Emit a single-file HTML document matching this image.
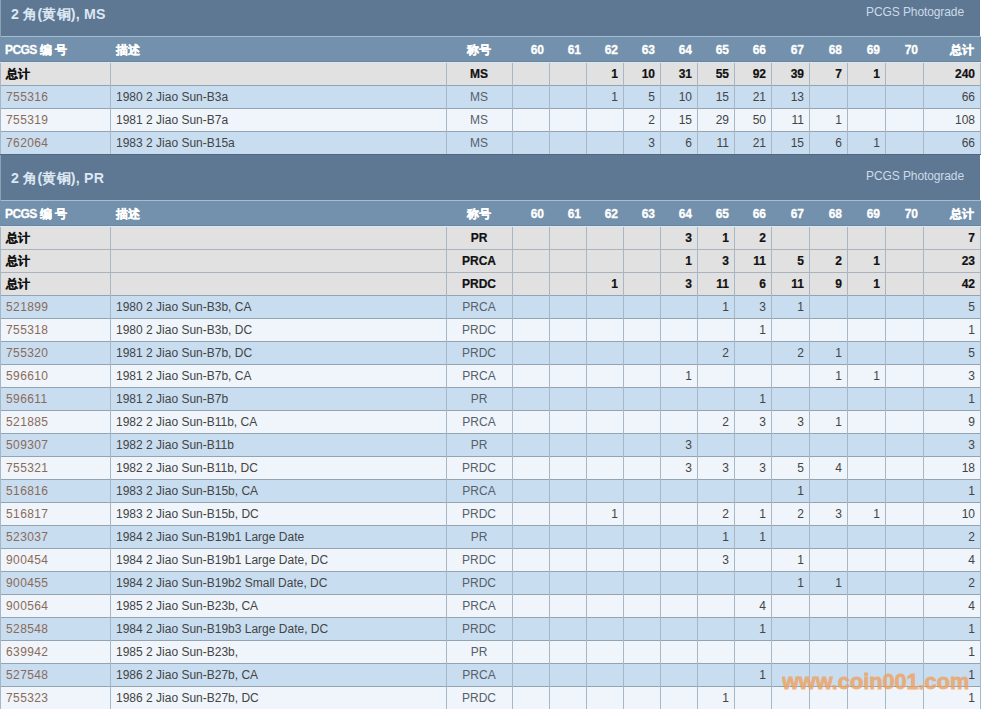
<!DOCTYPE html>
<html><head><meta charset="utf-8"><style>
html,body{margin:0;padding:0;background:#fff;}
body{width:982px;height:709px;overflow:hidden;position:relative;font-family:"Liberation Sans",sans-serif;font-size:12px;}
body>div{position:absolute;white-space:nowrap;overflow:hidden;}
.tt{color:#dbe7f2;font-weight:bold;font-size:14.2px;letter-spacing:0.2px;}
.pg{color:#cbdbea;font-size:12px;letter-spacing:-0.1px;}
.hd{color:#ffffff;font-weight:bold;font-size:12px;-webkit-text-stroke:0.3px #fff;}
.tb{color:#111111;font-weight:bold;-webkit-text-stroke:0.2px #111111;}
.lk{color:#8c6a59;letter-spacing:0.4px;}
.ds{color:#444444;}
.cd{color:#57606a;}
.nm{color:#444444;}
.wm{color:rgb(240,160,90);opacity:0.78;font-weight:bold;font-size:21.7px;-webkit-text-stroke:0.8px rgb(240,160,90);}
</style></head><body>
<div style="left:0px;top:-9px;width:980px;height:45px;background:#5e7792;"></div><div class="tt" style="left:0px;top:-8px;width:980px;height:45px;line-height:45px;text-align:left;padding-left:11px;box-sizing:border-box;">2 角(黄铜), MS</div><div class="pg" style="left:0px;top:0px;width:980px;height:25px;line-height:25px;text-align:right;padding-right:16px;box-sizing:border-box;">PCGS Photograde</div><div style="left:0px;top:36px;width:981px;height:1px;background:#a3bdd5;"></div><div style="left:0px;top:-9px;width:1px;height:71px;background:#8aa3bb;"></div><div style="left:0px;top:37px;width:981px;height:24px;background:#7391ac;"></div><div style="left:0px;top:61px;width:981px;height:1px;background:#6786a2;"></div><div style="left:0px;top:62px;width:981px;height:1px;background:#dfe7ee;"></div><div class="hd" style="left:0px;top:39px;width:110px;height:23px;line-height:23px;text-align:left;padding-left:5px;box-sizing:border-box;"><span style="letter-spacing:-0.6px">PCGS</span> 编 号</div><div class="hd" style="left:110px;top:39px;width:336px;height:23px;line-height:23px;text-align:left;padding-left:6px;box-sizing:border-box;">描述</div><div class="hd" style="left:446px;top:39px;width:66px;height:23px;line-height:23px;text-align:center;">称号</div><div class="hd" style="left:512px;top:39px;width:37px;height:23px;line-height:23px;text-align:right;padding-right:5px;box-sizing:border-box;">60</div><div class="hd" style="left:549px;top:39px;width:37px;height:23px;line-height:23px;text-align:right;padding-right:5px;box-sizing:border-box;">61</div><div class="hd" style="left:586px;top:39px;width:37px;height:23px;line-height:23px;text-align:right;padding-right:5px;box-sizing:border-box;">62</div><div class="hd" style="left:623px;top:39px;width:37px;height:23px;line-height:23px;text-align:right;padding-right:5px;box-sizing:border-box;">63</div><div class="hd" style="left:660px;top:39px;width:37px;height:23px;line-height:23px;text-align:right;padding-right:5px;box-sizing:border-box;">64</div><div class="hd" style="left:697px;top:39px;width:37px;height:23px;line-height:23px;text-align:right;padding-right:5px;box-sizing:border-box;">65</div><div class="hd" style="left:734px;top:39px;width:37px;height:23px;line-height:23px;text-align:right;padding-right:5px;box-sizing:border-box;">66</div><div class="hd" style="left:771px;top:39px;width:38px;height:23px;line-height:23px;text-align:right;padding-right:5px;box-sizing:border-box;">67</div><div class="hd" style="left:809px;top:39px;width:38px;height:23px;line-height:23px;text-align:right;padding-right:5px;box-sizing:border-box;">68</div><div class="hd" style="left:847px;top:39px;width:38px;height:23px;line-height:23px;text-align:right;padding-right:5px;box-sizing:border-box;">69</div><div class="hd" style="left:885px;top:39px;width:38px;height:23px;line-height:23px;text-align:right;padding-right:5px;box-sizing:border-box;">70</div><div class="hd" style="left:923px;top:39px;width:57px;height:23px;line-height:23px;text-align:right;padding-right:6px;box-sizing:border-box;">总计</div><div style="left:0px;top:63px;width:981px;height:22px;background:#e1e1e1;"></div><div class="tb" style="left:0px;top:63px;width:110px;height:22px;line-height:22px;text-align:left;padding-left:6px;box-sizing:border-box;">总计</div><div class="tb" style="left:110px;top:63px;width:336px;height:22px;line-height:22px;text-align:left;padding-left:6px;box-sizing:border-box;"></div><div class="tb" style="left:446px;top:63px;width:66px;height:22px;line-height:22px;text-align:center;">MS</div><div class="tb" style="left:586px;top:63px;width:37px;height:22px;line-height:22px;text-align:right;padding-right:5px;box-sizing:border-box;">1</div><div class="tb" style="left:623px;top:63px;width:37px;height:22px;line-height:22px;text-align:right;padding-right:5px;box-sizing:border-box;">10</div><div class="tb" style="left:660px;top:63px;width:37px;height:22px;line-height:22px;text-align:right;padding-right:5px;box-sizing:border-box;">31</div><div class="tb" style="left:697px;top:63px;width:37px;height:22px;line-height:22px;text-align:right;padding-right:5px;box-sizing:border-box;">55</div><div class="tb" style="left:734px;top:63px;width:37px;height:22px;line-height:22px;text-align:right;padding-right:5px;box-sizing:border-box;">92</div><div class="tb" style="left:771px;top:63px;width:38px;height:22px;line-height:22px;text-align:right;padding-right:5px;box-sizing:border-box;">39</div><div class="tb" style="left:809px;top:63px;width:38px;height:22px;line-height:22px;text-align:right;padding-right:5px;box-sizing:border-box;">7</div><div class="tb" style="left:847px;top:63px;width:38px;height:22px;line-height:22px;text-align:right;padding-right:5px;box-sizing:border-box;">1</div><div class="tb" style="left:923px;top:63px;width:57px;height:22px;line-height:22px;text-align:right;padding-right:5px;box-sizing:border-box;">240</div><div style="left:0px;top:85px;width:981px;height:1px;background:#94a3b0;"></div><div style="left:0px;top:86px;width:981px;height:22px;background:#c8ddf0;"></div><div class="lk" style="left:0px;top:86px;width:110px;height:22px;line-height:22px;text-align:left;padding-left:6px;box-sizing:border-box;">755316</div><div class="ds" style="left:110px;top:86px;width:336px;height:22px;line-height:22px;text-align:left;padding-left:6px;box-sizing:border-box;">1980 2 Jiao Sun-B3a</div><div class="cd" style="left:446px;top:86px;width:66px;height:22px;line-height:22px;text-align:center;">MS</div><div class="nm" style="left:586px;top:86px;width:37px;height:22px;line-height:22px;text-align:right;padding-right:5px;box-sizing:border-box;">1</div><div class="nm" style="left:623px;top:86px;width:37px;height:22px;line-height:22px;text-align:right;padding-right:5px;box-sizing:border-box;">5</div><div class="nm" style="left:660px;top:86px;width:37px;height:22px;line-height:22px;text-align:right;padding-right:5px;box-sizing:border-box;">10</div><div class="nm" style="left:697px;top:86px;width:37px;height:22px;line-height:22px;text-align:right;padding-right:5px;box-sizing:border-box;">15</div><div class="nm" style="left:734px;top:86px;width:37px;height:22px;line-height:22px;text-align:right;padding-right:5px;box-sizing:border-box;">21</div><div class="nm" style="left:771px;top:86px;width:38px;height:22px;line-height:22px;text-align:right;padding-right:5px;box-sizing:border-box;">13</div><div class="nm" style="left:923px;top:86px;width:57px;height:22px;line-height:22px;text-align:right;padding-right:5px;box-sizing:border-box;">66</div><div style="left:0px;top:108px;width:981px;height:1px;background:#94a3b0;"></div><div style="left:0px;top:109px;width:981px;height:22px;background:#eff5fa;"></div><div class="lk" style="left:0px;top:109px;width:110px;height:22px;line-height:22px;text-align:left;padding-left:6px;box-sizing:border-box;">755319</div><div class="ds" style="left:110px;top:109px;width:336px;height:22px;line-height:22px;text-align:left;padding-left:6px;box-sizing:border-box;">1981 2 Jiao Sun-B7a</div><div class="cd" style="left:446px;top:109px;width:66px;height:22px;line-height:22px;text-align:center;">MS</div><div class="nm" style="left:623px;top:109px;width:37px;height:22px;line-height:22px;text-align:right;padding-right:5px;box-sizing:border-box;">2</div><div class="nm" style="left:660px;top:109px;width:37px;height:22px;line-height:22px;text-align:right;padding-right:5px;box-sizing:border-box;">15</div><div class="nm" style="left:697px;top:109px;width:37px;height:22px;line-height:22px;text-align:right;padding-right:5px;box-sizing:border-box;">29</div><div class="nm" style="left:734px;top:109px;width:37px;height:22px;line-height:22px;text-align:right;padding-right:5px;box-sizing:border-box;">50</div><div class="nm" style="left:771px;top:109px;width:38px;height:22px;line-height:22px;text-align:right;padding-right:5px;box-sizing:border-box;">11</div><div class="nm" style="left:809px;top:109px;width:38px;height:22px;line-height:22px;text-align:right;padding-right:5px;box-sizing:border-box;">1</div><div class="nm" style="left:923px;top:109px;width:57px;height:22px;line-height:22px;text-align:right;padding-right:5px;box-sizing:border-box;">108</div><div style="left:0px;top:131px;width:981px;height:1px;background:#94a3b0;"></div><div style="left:0px;top:132px;width:981px;height:22px;background:#c8ddf0;"></div><div class="lk" style="left:0px;top:132px;width:110px;height:22px;line-height:22px;text-align:left;padding-left:6px;box-sizing:border-box;">762064</div><div class="ds" style="left:110px;top:132px;width:336px;height:22px;line-height:22px;text-align:left;padding-left:6px;box-sizing:border-box;">1983 2 Jiao Sun-B15a</div><div class="cd" style="left:446px;top:132px;width:66px;height:22px;line-height:22px;text-align:center;">MS</div><div class="nm" style="left:623px;top:132px;width:37px;height:22px;line-height:22px;text-align:right;padding-right:5px;box-sizing:border-box;">3</div><div class="nm" style="left:660px;top:132px;width:37px;height:22px;line-height:22px;text-align:right;padding-right:5px;box-sizing:border-box;">6</div><div class="nm" style="left:697px;top:132px;width:37px;height:22px;line-height:22px;text-align:right;padding-right:5px;box-sizing:border-box;">11</div><div class="nm" style="left:734px;top:132px;width:37px;height:22px;line-height:22px;text-align:right;padding-right:5px;box-sizing:border-box;">21</div><div class="nm" style="left:771px;top:132px;width:38px;height:22px;line-height:22px;text-align:right;padding-right:5px;box-sizing:border-box;">15</div><div class="nm" style="left:809px;top:132px;width:38px;height:22px;line-height:22px;text-align:right;padding-right:5px;box-sizing:border-box;">6</div><div class="nm" style="left:847px;top:132px;width:38px;height:22px;line-height:22px;text-align:right;padding-right:5px;box-sizing:border-box;">1</div><div class="nm" style="left:923px;top:132px;width:57px;height:22px;line-height:22px;text-align:right;padding-right:5px;box-sizing:border-box;">66</div><div style="left:0px;top:154px;width:981px;height:1px;background:#51687f;"></div><div style="left:0px;top:63px;width:1px;height:91px;background:#a7b7c6;"></div><div style="left:110px;top:63px;width:1px;height:91px;background:#a7b7c6;"></div><div style="left:446px;top:63px;width:1px;height:91px;background:#a7b7c6;"></div><div style="left:512px;top:63px;width:1px;height:91px;background:#a7b7c6;"></div><div style="left:549px;top:63px;width:1px;height:91px;background:#a7b7c6;"></div><div style="left:586px;top:63px;width:1px;height:91px;background:#a7b7c6;"></div><div style="left:623px;top:63px;width:1px;height:91px;background:#a7b7c6;"></div><div style="left:660px;top:63px;width:1px;height:91px;background:#a7b7c6;"></div><div style="left:697px;top:63px;width:1px;height:91px;background:#a7b7c6;"></div><div style="left:734px;top:63px;width:1px;height:91px;background:#a7b7c6;"></div><div style="left:771px;top:63px;width:1px;height:91px;background:#a7b7c6;"></div><div style="left:809px;top:63px;width:1px;height:91px;background:#a7b7c6;"></div><div style="left:847px;top:63px;width:1px;height:91px;background:#a7b7c6;"></div><div style="left:885px;top:63px;width:1px;height:91px;background:#a7b7c6;"></div><div style="left:923px;top:63px;width:1px;height:91px;background:#a7b7c6;"></div><div style="left:980px;top:63px;width:1px;height:91px;background:#a7b7c6;"></div><div style="left:0px;top:155px;width:980px;height:45px;background:#5e7792;"></div><div class="tt" style="left:0px;top:156px;width:980px;height:45px;line-height:45px;text-align:left;padding-left:11px;box-sizing:border-box;">2 角(黄铜), PR</div><div class="pg" style="left:0px;top:164px;width:980px;height:25px;line-height:25px;text-align:right;padding-right:16px;box-sizing:border-box;">PCGS Photograde</div><div style="left:0px;top:200px;width:981px;height:1px;background:#a3bdd5;"></div><div style="left:0px;top:155px;width:1px;height:71px;background:#8aa3bb;"></div><div style="left:0px;top:201px;width:981px;height:24px;background:#7391ac;"></div><div style="left:0px;top:225px;width:981px;height:1px;background:#6786a2;"></div><div style="left:0px;top:226px;width:981px;height:1px;background:#dfe7ee;"></div><div class="hd" style="left:0px;top:203px;width:110px;height:23px;line-height:23px;text-align:left;padding-left:5px;box-sizing:border-box;"><span style="letter-spacing:-0.6px">PCGS</span> 编 号</div><div class="hd" style="left:110px;top:203px;width:336px;height:23px;line-height:23px;text-align:left;padding-left:6px;box-sizing:border-box;">描述</div><div class="hd" style="left:446px;top:203px;width:66px;height:23px;line-height:23px;text-align:center;">称号</div><div class="hd" style="left:512px;top:203px;width:37px;height:23px;line-height:23px;text-align:right;padding-right:5px;box-sizing:border-box;">60</div><div class="hd" style="left:549px;top:203px;width:37px;height:23px;line-height:23px;text-align:right;padding-right:5px;box-sizing:border-box;">61</div><div class="hd" style="left:586px;top:203px;width:37px;height:23px;line-height:23px;text-align:right;padding-right:5px;box-sizing:border-box;">62</div><div class="hd" style="left:623px;top:203px;width:37px;height:23px;line-height:23px;text-align:right;padding-right:5px;box-sizing:border-box;">63</div><div class="hd" style="left:660px;top:203px;width:37px;height:23px;line-height:23px;text-align:right;padding-right:5px;box-sizing:border-box;">64</div><div class="hd" style="left:697px;top:203px;width:37px;height:23px;line-height:23px;text-align:right;padding-right:5px;box-sizing:border-box;">65</div><div class="hd" style="left:734px;top:203px;width:37px;height:23px;line-height:23px;text-align:right;padding-right:5px;box-sizing:border-box;">66</div><div class="hd" style="left:771px;top:203px;width:38px;height:23px;line-height:23px;text-align:right;padding-right:5px;box-sizing:border-box;">67</div><div class="hd" style="left:809px;top:203px;width:38px;height:23px;line-height:23px;text-align:right;padding-right:5px;box-sizing:border-box;">68</div><div class="hd" style="left:847px;top:203px;width:38px;height:23px;line-height:23px;text-align:right;padding-right:5px;box-sizing:border-box;">69</div><div class="hd" style="left:885px;top:203px;width:38px;height:23px;line-height:23px;text-align:right;padding-right:5px;box-sizing:border-box;">70</div><div class="hd" style="left:923px;top:203px;width:57px;height:23px;line-height:23px;text-align:right;padding-right:6px;box-sizing:border-box;">总计</div><div style="left:0px;top:227px;width:981px;height:22px;background:#e1e1e1;"></div><div class="tb" style="left:0px;top:227px;width:110px;height:22px;line-height:22px;text-align:left;padding-left:6px;box-sizing:border-box;">总计</div><div class="tb" style="left:110px;top:227px;width:336px;height:22px;line-height:22px;text-align:left;padding-left:6px;box-sizing:border-box;"></div><div class="tb" style="left:446px;top:227px;width:66px;height:22px;line-height:22px;text-align:center;">PR</div><div class="tb" style="left:660px;top:227px;width:37px;height:22px;line-height:22px;text-align:right;padding-right:5px;box-sizing:border-box;">3</div><div class="tb" style="left:697px;top:227px;width:37px;height:22px;line-height:22px;text-align:right;padding-right:5px;box-sizing:border-box;">1</div><div class="tb" style="left:734px;top:227px;width:37px;height:22px;line-height:22px;text-align:right;padding-right:5px;box-sizing:border-box;">2</div><div class="tb" style="left:923px;top:227px;width:57px;height:22px;line-height:22px;text-align:right;padding-right:5px;box-sizing:border-box;">7</div><div style="left:0px;top:249px;width:981px;height:1px;background:#aab3bd;"></div><div style="left:0px;top:250px;width:981px;height:22px;background:#e1e1e1;"></div><div class="tb" style="left:0px;top:250px;width:110px;height:22px;line-height:22px;text-align:left;padding-left:6px;box-sizing:border-box;">总计</div><div class="tb" style="left:110px;top:250px;width:336px;height:22px;line-height:22px;text-align:left;padding-left:6px;box-sizing:border-box;"></div><div class="tb" style="left:446px;top:250px;width:66px;height:22px;line-height:22px;text-align:center;">PRCA</div><div class="tb" style="left:660px;top:250px;width:37px;height:22px;line-height:22px;text-align:right;padding-right:5px;box-sizing:border-box;">1</div><div class="tb" style="left:697px;top:250px;width:37px;height:22px;line-height:22px;text-align:right;padding-right:5px;box-sizing:border-box;">3</div><div class="tb" style="left:734px;top:250px;width:37px;height:22px;line-height:22px;text-align:right;padding-right:5px;box-sizing:border-box;">11</div><div class="tb" style="left:771px;top:250px;width:38px;height:22px;line-height:22px;text-align:right;padding-right:5px;box-sizing:border-box;">5</div><div class="tb" style="left:809px;top:250px;width:38px;height:22px;line-height:22px;text-align:right;padding-right:5px;box-sizing:border-box;">2</div><div class="tb" style="left:847px;top:250px;width:38px;height:22px;line-height:22px;text-align:right;padding-right:5px;box-sizing:border-box;">1</div><div class="tb" style="left:923px;top:250px;width:57px;height:22px;line-height:22px;text-align:right;padding-right:5px;box-sizing:border-box;">23</div><div style="left:0px;top:272px;width:981px;height:1px;background:#aab3bd;"></div><div style="left:0px;top:273px;width:981px;height:22px;background:#e1e1e1;"></div><div class="tb" style="left:0px;top:273px;width:110px;height:22px;line-height:22px;text-align:left;padding-left:6px;box-sizing:border-box;">总计</div><div class="tb" style="left:110px;top:273px;width:336px;height:22px;line-height:22px;text-align:left;padding-left:6px;box-sizing:border-box;"></div><div class="tb" style="left:446px;top:273px;width:66px;height:22px;line-height:22px;text-align:center;">PRDC</div><div class="tb" style="left:586px;top:273px;width:37px;height:22px;line-height:22px;text-align:right;padding-right:5px;box-sizing:border-box;">1</div><div class="tb" style="left:660px;top:273px;width:37px;height:22px;line-height:22px;text-align:right;padding-right:5px;box-sizing:border-box;">3</div><div class="tb" style="left:697px;top:273px;width:37px;height:22px;line-height:22px;text-align:right;padding-right:5px;box-sizing:border-box;">11</div><div class="tb" style="left:734px;top:273px;width:37px;height:22px;line-height:22px;text-align:right;padding-right:5px;box-sizing:border-box;">6</div><div class="tb" style="left:771px;top:273px;width:38px;height:22px;line-height:22px;text-align:right;padding-right:5px;box-sizing:border-box;">11</div><div class="tb" style="left:809px;top:273px;width:38px;height:22px;line-height:22px;text-align:right;padding-right:5px;box-sizing:border-box;">9</div><div class="tb" style="left:847px;top:273px;width:38px;height:22px;line-height:22px;text-align:right;padding-right:5px;box-sizing:border-box;">1</div><div class="tb" style="left:923px;top:273px;width:57px;height:22px;line-height:22px;text-align:right;padding-right:5px;box-sizing:border-box;">42</div><div style="left:0px;top:295px;width:981px;height:1px;background:#94a3b0;"></div><div style="left:0px;top:296px;width:981px;height:22px;background:#c8ddf0;"></div><div class="lk" style="left:0px;top:296px;width:110px;height:22px;line-height:22px;text-align:left;padding-left:6px;box-sizing:border-box;">521899</div><div class="ds" style="left:110px;top:296px;width:336px;height:22px;line-height:22px;text-align:left;padding-left:6px;box-sizing:border-box;">1980 2 Jiao Sun-B3b, CA</div><div class="cd" style="left:446px;top:296px;width:66px;height:22px;line-height:22px;text-align:center;">PRCA</div><div class="nm" style="left:697px;top:296px;width:37px;height:22px;line-height:22px;text-align:right;padding-right:5px;box-sizing:border-box;">1</div><div class="nm" style="left:734px;top:296px;width:37px;height:22px;line-height:22px;text-align:right;padding-right:5px;box-sizing:border-box;">3</div><div class="nm" style="left:771px;top:296px;width:38px;height:22px;line-height:22px;text-align:right;padding-right:5px;box-sizing:border-box;">1</div><div class="nm" style="left:923px;top:296px;width:57px;height:22px;line-height:22px;text-align:right;padding-right:5px;box-sizing:border-box;">5</div><div style="left:0px;top:318px;width:981px;height:1px;background:#94a3b0;"></div><div style="left:0px;top:319px;width:981px;height:22px;background:#eff5fa;"></div><div class="lk" style="left:0px;top:319px;width:110px;height:22px;line-height:22px;text-align:left;padding-left:6px;box-sizing:border-box;">755318</div><div class="ds" style="left:110px;top:319px;width:336px;height:22px;line-height:22px;text-align:left;padding-left:6px;box-sizing:border-box;">1980 2 Jiao Sun-B3b, DC</div><div class="cd" style="left:446px;top:319px;width:66px;height:22px;line-height:22px;text-align:center;">PRDC</div><div class="nm" style="left:734px;top:319px;width:37px;height:22px;line-height:22px;text-align:right;padding-right:5px;box-sizing:border-box;">1</div><div class="nm" style="left:923px;top:319px;width:57px;height:22px;line-height:22px;text-align:right;padding-right:5px;box-sizing:border-box;">1</div><div style="left:0px;top:341px;width:981px;height:1px;background:#94a3b0;"></div><div style="left:0px;top:342px;width:981px;height:22px;background:#c8ddf0;"></div><div class="lk" style="left:0px;top:342px;width:110px;height:22px;line-height:22px;text-align:left;padding-left:6px;box-sizing:border-box;">755320</div><div class="ds" style="left:110px;top:342px;width:336px;height:22px;line-height:22px;text-align:left;padding-left:6px;box-sizing:border-box;">1981 2 Jiao Sun-B7b, DC</div><div class="cd" style="left:446px;top:342px;width:66px;height:22px;line-height:22px;text-align:center;">PRDC</div><div class="nm" style="left:697px;top:342px;width:37px;height:22px;line-height:22px;text-align:right;padding-right:5px;box-sizing:border-box;">2</div><div class="nm" style="left:771px;top:342px;width:38px;height:22px;line-height:22px;text-align:right;padding-right:5px;box-sizing:border-box;">2</div><div class="nm" style="left:809px;top:342px;width:38px;height:22px;line-height:22px;text-align:right;padding-right:5px;box-sizing:border-box;">1</div><div class="nm" style="left:923px;top:342px;width:57px;height:22px;line-height:22px;text-align:right;padding-right:5px;box-sizing:border-box;">5</div><div style="left:0px;top:364px;width:981px;height:1px;background:#94a3b0;"></div><div style="left:0px;top:365px;width:981px;height:22px;background:#eff5fa;"></div><div class="lk" style="left:0px;top:365px;width:110px;height:22px;line-height:22px;text-align:left;padding-left:6px;box-sizing:border-box;">596610</div><div class="ds" style="left:110px;top:365px;width:336px;height:22px;line-height:22px;text-align:left;padding-left:6px;box-sizing:border-box;">1981 2 Jiao Sun-B7b, CA</div><div class="cd" style="left:446px;top:365px;width:66px;height:22px;line-height:22px;text-align:center;">PRCA</div><div class="nm" style="left:660px;top:365px;width:37px;height:22px;line-height:22px;text-align:right;padding-right:5px;box-sizing:border-box;">1</div><div class="nm" style="left:809px;top:365px;width:38px;height:22px;line-height:22px;text-align:right;padding-right:5px;box-sizing:border-box;">1</div><div class="nm" style="left:847px;top:365px;width:38px;height:22px;line-height:22px;text-align:right;padding-right:5px;box-sizing:border-box;">1</div><div class="nm" style="left:923px;top:365px;width:57px;height:22px;line-height:22px;text-align:right;padding-right:5px;box-sizing:border-box;">3</div><div style="left:0px;top:387px;width:981px;height:1px;background:#94a3b0;"></div><div style="left:0px;top:388px;width:981px;height:22px;background:#c8ddf0;"></div><div class="lk" style="left:0px;top:388px;width:110px;height:22px;line-height:22px;text-align:left;padding-left:6px;box-sizing:border-box;">596611</div><div class="ds" style="left:110px;top:388px;width:336px;height:22px;line-height:22px;text-align:left;padding-left:6px;box-sizing:border-box;">1981 2 Jiao Sun-B7b</div><div class="cd" style="left:446px;top:388px;width:66px;height:22px;line-height:22px;text-align:center;">PR</div><div class="nm" style="left:734px;top:388px;width:37px;height:22px;line-height:22px;text-align:right;padding-right:5px;box-sizing:border-box;">1</div><div class="nm" style="left:923px;top:388px;width:57px;height:22px;line-height:22px;text-align:right;padding-right:5px;box-sizing:border-box;">1</div><div style="left:0px;top:410px;width:981px;height:1px;background:#94a3b0;"></div><div style="left:0px;top:411px;width:981px;height:22px;background:#eff5fa;"></div><div class="lk" style="left:0px;top:411px;width:110px;height:22px;line-height:22px;text-align:left;padding-left:6px;box-sizing:border-box;">521885</div><div class="ds" style="left:110px;top:411px;width:336px;height:22px;line-height:22px;text-align:left;padding-left:6px;box-sizing:border-box;">1982 2 Jiao Sun-B11b, CA</div><div class="cd" style="left:446px;top:411px;width:66px;height:22px;line-height:22px;text-align:center;">PRCA</div><div class="nm" style="left:697px;top:411px;width:37px;height:22px;line-height:22px;text-align:right;padding-right:5px;box-sizing:border-box;">2</div><div class="nm" style="left:734px;top:411px;width:37px;height:22px;line-height:22px;text-align:right;padding-right:5px;box-sizing:border-box;">3</div><div class="nm" style="left:771px;top:411px;width:38px;height:22px;line-height:22px;text-align:right;padding-right:5px;box-sizing:border-box;">3</div><div class="nm" style="left:809px;top:411px;width:38px;height:22px;line-height:22px;text-align:right;padding-right:5px;box-sizing:border-box;">1</div><div class="nm" style="left:923px;top:411px;width:57px;height:22px;line-height:22px;text-align:right;padding-right:5px;box-sizing:border-box;">9</div><div style="left:0px;top:433px;width:981px;height:1px;background:#94a3b0;"></div><div style="left:0px;top:434px;width:981px;height:22px;background:#c8ddf0;"></div><div class="lk" style="left:0px;top:434px;width:110px;height:22px;line-height:22px;text-align:left;padding-left:6px;box-sizing:border-box;">509307</div><div class="ds" style="left:110px;top:434px;width:336px;height:22px;line-height:22px;text-align:left;padding-left:6px;box-sizing:border-box;">1982 2 Jiao Sun-B11b</div><div class="cd" style="left:446px;top:434px;width:66px;height:22px;line-height:22px;text-align:center;">PR</div><div class="nm" style="left:660px;top:434px;width:37px;height:22px;line-height:22px;text-align:right;padding-right:5px;box-sizing:border-box;">3</div><div class="nm" style="left:923px;top:434px;width:57px;height:22px;line-height:22px;text-align:right;padding-right:5px;box-sizing:border-box;">3</div><div style="left:0px;top:456px;width:981px;height:1px;background:#94a3b0;"></div><div style="left:0px;top:457px;width:981px;height:22px;background:#eff5fa;"></div><div class="lk" style="left:0px;top:457px;width:110px;height:22px;line-height:22px;text-align:left;padding-left:6px;box-sizing:border-box;">755321</div><div class="ds" style="left:110px;top:457px;width:336px;height:22px;line-height:22px;text-align:left;padding-left:6px;box-sizing:border-box;">1982 2 Jiao Sun-B11b, DC</div><div class="cd" style="left:446px;top:457px;width:66px;height:22px;line-height:22px;text-align:center;">PRDC</div><div class="nm" style="left:660px;top:457px;width:37px;height:22px;line-height:22px;text-align:right;padding-right:5px;box-sizing:border-box;">3</div><div class="nm" style="left:697px;top:457px;width:37px;height:22px;line-height:22px;text-align:right;padding-right:5px;box-sizing:border-box;">3</div><div class="nm" style="left:734px;top:457px;width:37px;height:22px;line-height:22px;text-align:right;padding-right:5px;box-sizing:border-box;">3</div><div class="nm" style="left:771px;top:457px;width:38px;height:22px;line-height:22px;text-align:right;padding-right:5px;box-sizing:border-box;">5</div><div class="nm" style="left:809px;top:457px;width:38px;height:22px;line-height:22px;text-align:right;padding-right:5px;box-sizing:border-box;">4</div><div class="nm" style="left:923px;top:457px;width:57px;height:22px;line-height:22px;text-align:right;padding-right:5px;box-sizing:border-box;">18</div><div style="left:0px;top:479px;width:981px;height:1px;background:#94a3b0;"></div><div style="left:0px;top:480px;width:981px;height:22px;background:#c8ddf0;"></div><div class="lk" style="left:0px;top:480px;width:110px;height:22px;line-height:22px;text-align:left;padding-left:6px;box-sizing:border-box;">516816</div><div class="ds" style="left:110px;top:480px;width:336px;height:22px;line-height:22px;text-align:left;padding-left:6px;box-sizing:border-box;">1983 2 Jiao Sun-B15b, CA</div><div class="cd" style="left:446px;top:480px;width:66px;height:22px;line-height:22px;text-align:center;">PRCA</div><div class="nm" style="left:771px;top:480px;width:38px;height:22px;line-height:22px;text-align:right;padding-right:5px;box-sizing:border-box;">1</div><div class="nm" style="left:923px;top:480px;width:57px;height:22px;line-height:22px;text-align:right;padding-right:5px;box-sizing:border-box;">1</div><div style="left:0px;top:502px;width:981px;height:1px;background:#94a3b0;"></div><div style="left:0px;top:503px;width:981px;height:22px;background:#eff5fa;"></div><div class="lk" style="left:0px;top:503px;width:110px;height:22px;line-height:22px;text-align:left;padding-left:6px;box-sizing:border-box;">516817</div><div class="ds" style="left:110px;top:503px;width:336px;height:22px;line-height:22px;text-align:left;padding-left:6px;box-sizing:border-box;">1983 2 Jiao Sun-B15b, DC</div><div class="cd" style="left:446px;top:503px;width:66px;height:22px;line-height:22px;text-align:center;">PRDC</div><div class="nm" style="left:586px;top:503px;width:37px;height:22px;line-height:22px;text-align:right;padding-right:5px;box-sizing:border-box;">1</div><div class="nm" style="left:697px;top:503px;width:37px;height:22px;line-height:22px;text-align:right;padding-right:5px;box-sizing:border-box;">2</div><div class="nm" style="left:734px;top:503px;width:37px;height:22px;line-height:22px;text-align:right;padding-right:5px;box-sizing:border-box;">1</div><div class="nm" style="left:771px;top:503px;width:38px;height:22px;line-height:22px;text-align:right;padding-right:5px;box-sizing:border-box;">2</div><div class="nm" style="left:809px;top:503px;width:38px;height:22px;line-height:22px;text-align:right;padding-right:5px;box-sizing:border-box;">3</div><div class="nm" style="left:847px;top:503px;width:38px;height:22px;line-height:22px;text-align:right;padding-right:5px;box-sizing:border-box;">1</div><div class="nm" style="left:923px;top:503px;width:57px;height:22px;line-height:22px;text-align:right;padding-right:5px;box-sizing:border-box;">10</div><div style="left:0px;top:525px;width:981px;height:1px;background:#94a3b0;"></div><div style="left:0px;top:526px;width:981px;height:22px;background:#c8ddf0;"></div><div class="lk" style="left:0px;top:526px;width:110px;height:22px;line-height:22px;text-align:left;padding-left:6px;box-sizing:border-box;">523037</div><div class="ds" style="left:110px;top:526px;width:336px;height:22px;line-height:22px;text-align:left;padding-left:6px;box-sizing:border-box;">1984 2 Jiao Sun-B19b1 Large Date</div><div class="cd" style="left:446px;top:526px;width:66px;height:22px;line-height:22px;text-align:center;">PR</div><div class="nm" style="left:697px;top:526px;width:37px;height:22px;line-height:22px;text-align:right;padding-right:5px;box-sizing:border-box;">1</div><div class="nm" style="left:734px;top:526px;width:37px;height:22px;line-height:22px;text-align:right;padding-right:5px;box-sizing:border-box;">1</div><div class="nm" style="left:923px;top:526px;width:57px;height:22px;line-height:22px;text-align:right;padding-right:5px;box-sizing:border-box;">2</div><div style="left:0px;top:548px;width:981px;height:1px;background:#94a3b0;"></div><div style="left:0px;top:549px;width:981px;height:22px;background:#eff5fa;"></div><div class="lk" style="left:0px;top:549px;width:110px;height:22px;line-height:22px;text-align:left;padding-left:6px;box-sizing:border-box;">900454</div><div class="ds" style="left:110px;top:549px;width:336px;height:22px;line-height:22px;text-align:left;padding-left:6px;box-sizing:border-box;">1984 2 Jiao Sun-B19b1 Large Date, DC</div><div class="cd" style="left:446px;top:549px;width:66px;height:22px;line-height:22px;text-align:center;">PRDC</div><div class="nm" style="left:697px;top:549px;width:37px;height:22px;line-height:22px;text-align:right;padding-right:5px;box-sizing:border-box;">3</div><div class="nm" style="left:771px;top:549px;width:38px;height:22px;line-height:22px;text-align:right;padding-right:5px;box-sizing:border-box;">1</div><div class="nm" style="left:923px;top:549px;width:57px;height:22px;line-height:22px;text-align:right;padding-right:5px;box-sizing:border-box;">4</div><div style="left:0px;top:571px;width:981px;height:1px;background:#94a3b0;"></div><div style="left:0px;top:572px;width:981px;height:22px;background:#c8ddf0;"></div><div class="lk" style="left:0px;top:572px;width:110px;height:22px;line-height:22px;text-align:left;padding-left:6px;box-sizing:border-box;">900455</div><div class="ds" style="left:110px;top:572px;width:336px;height:22px;line-height:22px;text-align:left;padding-left:6px;box-sizing:border-box;">1984 2 Jiao Sun-B19b2 Small Date, DC</div><div class="cd" style="left:446px;top:572px;width:66px;height:22px;line-height:22px;text-align:center;">PRDC</div><div class="nm" style="left:771px;top:572px;width:38px;height:22px;line-height:22px;text-align:right;padding-right:5px;box-sizing:border-box;">1</div><div class="nm" style="left:809px;top:572px;width:38px;height:22px;line-height:22px;text-align:right;padding-right:5px;box-sizing:border-box;">1</div><div class="nm" style="left:923px;top:572px;width:57px;height:22px;line-height:22px;text-align:right;padding-right:5px;box-sizing:border-box;">2</div><div style="left:0px;top:594px;width:981px;height:1px;background:#94a3b0;"></div><div style="left:0px;top:595px;width:981px;height:22px;background:#eff5fa;"></div><div class="lk" style="left:0px;top:595px;width:110px;height:22px;line-height:22px;text-align:left;padding-left:6px;box-sizing:border-box;">900564</div><div class="ds" style="left:110px;top:595px;width:336px;height:22px;line-height:22px;text-align:left;padding-left:6px;box-sizing:border-box;">1985 2 Jiao Sun-B23b, CA</div><div class="cd" style="left:446px;top:595px;width:66px;height:22px;line-height:22px;text-align:center;">PRCA</div><div class="nm" style="left:734px;top:595px;width:37px;height:22px;line-height:22px;text-align:right;padding-right:5px;box-sizing:border-box;">4</div><div class="nm" style="left:923px;top:595px;width:57px;height:22px;line-height:22px;text-align:right;padding-right:5px;box-sizing:border-box;">4</div><div style="left:0px;top:617px;width:981px;height:1px;background:#94a3b0;"></div><div style="left:0px;top:618px;width:981px;height:22px;background:#c8ddf0;"></div><div class="lk" style="left:0px;top:618px;width:110px;height:22px;line-height:22px;text-align:left;padding-left:6px;box-sizing:border-box;">528548</div><div class="ds" style="left:110px;top:618px;width:336px;height:22px;line-height:22px;text-align:left;padding-left:6px;box-sizing:border-box;">1984 2 Jiao Sun-B19b3 Large Date, DC</div><div class="cd" style="left:446px;top:618px;width:66px;height:22px;line-height:22px;text-align:center;">PRDC</div><div class="nm" style="left:734px;top:618px;width:37px;height:22px;line-height:22px;text-align:right;padding-right:5px;box-sizing:border-box;">1</div><div class="nm" style="left:923px;top:618px;width:57px;height:22px;line-height:22px;text-align:right;padding-right:5px;box-sizing:border-box;">1</div><div style="left:0px;top:640px;width:981px;height:1px;background:#94a3b0;"></div><div style="left:0px;top:641px;width:981px;height:22px;background:#eff5fa;"></div><div class="lk" style="left:0px;top:641px;width:110px;height:22px;line-height:22px;text-align:left;padding-left:6px;box-sizing:border-box;">639942</div><div class="ds" style="left:110px;top:641px;width:336px;height:22px;line-height:22px;text-align:left;padding-left:6px;box-sizing:border-box;">1985 2 Jiao Sun-B23b,</div><div class="cd" style="left:446px;top:641px;width:66px;height:22px;line-height:22px;text-align:center;">PR</div><div class="nm" style="left:923px;top:641px;width:57px;height:22px;line-height:22px;text-align:right;padding-right:5px;box-sizing:border-box;">1</div><div style="left:0px;top:663px;width:981px;height:1px;background:#94a3b0;"></div><div style="left:0px;top:664px;width:981px;height:22px;background:#c8ddf0;"></div><div class="lk" style="left:0px;top:664px;width:110px;height:22px;line-height:22px;text-align:left;padding-left:6px;box-sizing:border-box;">527548</div><div class="ds" style="left:110px;top:664px;width:336px;height:22px;line-height:22px;text-align:left;padding-left:6px;box-sizing:border-box;">1986 2 Jiao Sun-B27b, CA</div><div class="cd" style="left:446px;top:664px;width:66px;height:22px;line-height:22px;text-align:center;">PRCA</div><div class="nm" style="left:734px;top:664px;width:37px;height:22px;line-height:22px;text-align:right;padding-right:5px;box-sizing:border-box;">1</div><div class="nm" style="left:923px;top:664px;width:57px;height:22px;line-height:22px;text-align:right;padding-right:5px;box-sizing:border-box;">1</div><div style="left:0px;top:686px;width:981px;height:1px;background:#94a3b0;"></div><div style="left:0px;top:687px;width:981px;height:22px;background:#eff5fa;"></div><div class="lk" style="left:0px;top:687px;width:110px;height:22px;line-height:22px;text-align:left;padding-left:6px;box-sizing:border-box;">755323</div><div class="ds" style="left:110px;top:687px;width:336px;height:22px;line-height:22px;text-align:left;padding-left:6px;box-sizing:border-box;">1986 2 Jiao Sun-B27b, DC</div><div class="cd" style="left:446px;top:687px;width:66px;height:22px;line-height:22px;text-align:center;">PRDC</div><div class="nm" style="left:697px;top:687px;width:37px;height:22px;line-height:22px;text-align:right;padding-right:5px;box-sizing:border-box;">1</div><div class="nm" style="left:923px;top:687px;width:57px;height:22px;line-height:22px;text-align:right;padding-right:5px;box-sizing:border-box;">1</div><div style="left:0px;top:709px;width:981px;height:1px;background:#51687f;"></div><div style="left:0px;top:227px;width:1px;height:482px;background:#a7b7c6;"></div><div style="left:110px;top:227px;width:1px;height:482px;background:#a7b7c6;"></div><div style="left:446px;top:227px;width:1px;height:482px;background:#a7b7c6;"></div><div style="left:512px;top:227px;width:1px;height:482px;background:#a7b7c6;"></div><div style="left:549px;top:227px;width:1px;height:482px;background:#a7b7c6;"></div><div style="left:586px;top:227px;width:1px;height:482px;background:#a7b7c6;"></div><div style="left:623px;top:227px;width:1px;height:482px;background:#a7b7c6;"></div><div style="left:660px;top:227px;width:1px;height:482px;background:#a7b7c6;"></div><div style="left:697px;top:227px;width:1px;height:482px;background:#a7b7c6;"></div><div style="left:734px;top:227px;width:1px;height:482px;background:#a7b7c6;"></div><div style="left:771px;top:227px;width:1px;height:482px;background:#a7b7c6;"></div><div style="left:809px;top:227px;width:1px;height:482px;background:#a7b7c6;"></div><div style="left:847px;top:227px;width:1px;height:482px;background:#a7b7c6;"></div><div style="left:885px;top:227px;width:1px;height:482px;background:#a7b7c6;"></div><div style="left:923px;top:227px;width:1px;height:482px;background:#a7b7c6;"></div><div style="left:980px;top:227px;width:1px;height:482px;background:#a7b7c6;"></div>
<div class="wm" style="left:782px;top:669px;">www.coin001.com</div>
</body></html>
